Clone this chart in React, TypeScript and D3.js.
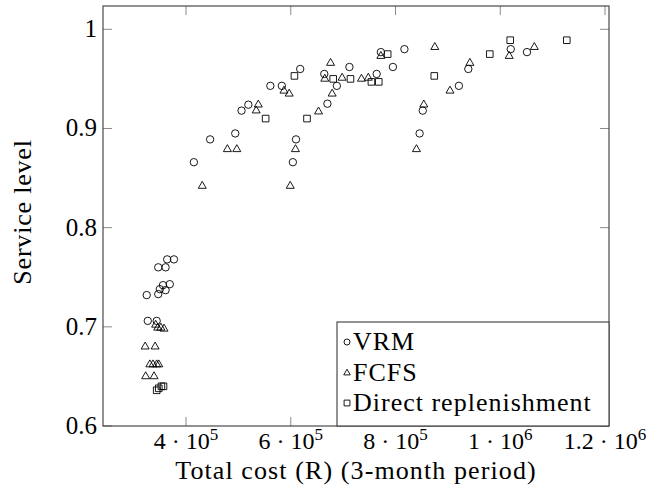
import React from 'react';
import * as d3 from 'd3';

const vrmCost = [364000, 377000, 347000, 361000, 325000, 347000, 350000, 356000, 361000, 369000, 327000, 344000,
  415000, 446000, 494000, 506000, 519000, 561000, 583000, 618000, 610000, 604000, 664000, 670000, 688000, 712000,
  764000, 772000, 795000, 817000, 846000, 852000, 921000, 939000, 1020000, 1051000];
const vrmLevel = [0.768, 0.768, 0.760, 0.760, 0.732, 0.733, 0.738, 0.742, 0.737, 0.743, 0.706, 0.706,
  0.866, 0.889, 0.895, 0.918, 0.924, 0.943, 0.943, 0.960, 0.889, 0.866, 0.955, 0.925, 0.943, 0.962,
  0.955, 0.977, 0.962, 0.980, 0.895, 0.918, 0.943, 0.960, 0.980, 0.977];

const fcfsCost = [342000, 346000, 352000, 358000, 322000, 341000, 331000, 337000, 344000, 348000, 323000, 339000,
  431000, 479000, 497000, 538000, 534000, 587000, 597000, 599000, 609000, 653000, 676000, 665000, 679000, 698000,
  735000, 748000, 772000, 840000, 854000, 875000, 904000, 942000, 1017000, 1065000];
const fcfsLevel = [0.702, 0.699, 0.699, 0.698, 0.680, 0.680, 0.662, 0.662, 0.662, 0.662, 0.650, 0.650,
  0.842, 0.879, 0.879, 0.924, 0.918, 0.938, 0.935, 0.842, 0.879, 0.917, 0.966, 0.950, 0.935, 0.951,
  0.950, 0.951, 0.973, 0.879, 0.924, 0.982, 0.938, 0.966, 0.973, 0.982];

const drCost = [344000, 348000, 353000, 357000, 552000, 607000, 631000, 681000, 714000, 754000, 768000, 785000,
  874000, 980000, 1019000, 1127000];
const drLevel = [0.636, 0.638, 0.640, 0.640, 0.910, 0.953, 0.910, 0.950, 0.950, 0.947, 0.947, 0.975,
  0.953, 0.975, 0.989, 0.989];

const xTickValues = [400000, 600000, 800000, 1000000, 1200000];
const xTickMantissas = ['4', '6', '8', '1', '1.2'];
const xTickExponents = ['5', '5', '5', '6', '6'];
const yTickValues = [0.6, 0.7, 0.8, 0.9, 1];
const yTickLabels = ['0.6', '0.7', '0.8', '0.9', '1'];
const seriesNames = ['VRM', 'FCFS', 'Direct replenishment'];
const xTitle = 'Total cost (R) (3-month period)';
const yTitle = 'Service level';

const FONT = "'Liberation Serif', 'DejaVu Serif', serif";

export default function App() {
  const W = 650, H = 500;
  const left = 103, right = 609, top = 6, bottom = 426;
  const x = d3.scaleLinear().domain([241500, 1207600]).range([left, right]);
  const y = d3.scaleLinear().domain([0.6, 1.0235]).range([bottom, top]);

  const circle = d3.symbol().type(d3.symbolCircle).size(Math.PI * 3.7 * 3.7)() as string;
  const tri = d3.symbol().type(d3.symbolTriangle).size((Math.sqrt(3) / 4) * 8 * 8)() as string;
  const sq = d3.symbol().type(d3.symbolSquare).size(6.6 * 6.6)() as string;
  const circleS = d3.symbol().type(d3.symbolCircle).size(Math.PI * 3 * 3)() as string;
  const triS = d3.symbol().type(d3.symbolTriangle).size((Math.sqrt(3) / 4) * 6.5 * 6.5)() as string;
  const sqS = d3.symbol().type(d3.symbolSquare).size(5.8 * 5.8)() as string;

  const series = [
    { cost: vrmCost, level: vrmLevel, path: circle, small: circleS },
    { cost: fcfsCost, level: fcfsLevel, path: tri, small: triS },
    { cost: drCost, level: drLevel, path: sq, small: sqS },
  ];

  const tickLen = 9;
  const legX0 = 337, legY0 = 322;
  const legRows = [342, 373, 403];
  const ts = { fontFamily: FONT };

  return (
    <svg width={W} height={H} style={{ position: 'absolute', left: 0, top: 0, background: '#fff' }}>
      <rect x={0} y={0} width={W} height={H} fill="#fff" />
      {xTickValues.map((v, i) => (
        <g key={'xt' + i} stroke="#8a8a8a" strokeWidth={1}>
          <line x1={x(v)} x2={x(v)} y1={bottom} y2={bottom - tickLen} />
          <line x1={x(v)} x2={x(v)} y1={top} y2={top + tickLen} />
        </g>
      ))}
      {yTickValues.map((v, i) => (
        <g key={'yt' + i} stroke="#8a8a8a" strokeWidth={1}>
          <line x1={left} x2={left + tickLen} y1={y(v)} y2={y(v)} />
          <line x1={right} x2={right - tickLen} y1={y(v)} y2={y(v)} />
        </g>
      ))}
      {series.map((s, si) => (
        <g key={'s' + si} fill="none" stroke="#000" strokeWidth={0.9}>
          {s.cost.map((c, i) => (
            <path key={i} d={s.path} transform={`translate(${x(c)},${y(s.level[i])})`} />
          ))}
        </g>
      ))}
      <rect x={left} y={top} width={right - left} height={bottom - top} fill="none" stroke="#3a3a3a" strokeWidth={1.1} />
      <rect x={legX0} y={legY0} width={right - legX0} height={bottom - legY0} fill="#fff" stroke="#3a3a3a" strokeWidth={1.1} />
      {seriesNames.map((n, i) => (
        <g key={'l' + i}>
          <path d={series[i].small} transform={`translate(${legX0 + 10},${legRows[i]})`} fill="none" stroke="#000" strokeWidth={0.9} />
          <text x={legX0 + 16} y={legRows[i] + 8} fontSize={26} letterSpacing={1.0} fill="#000" style={ts}>{n}</text>
        </g>
      ))}
      {xTickValues.map((v, i) => (
        <text key={'xl' + i} x={x(v)} y={449} fontSize={24} textAnchor="middle" fill="#000" style={ts}>
          {xTickMantissas[i] + ' \u00B7 10'}
          <tspan fontSize={17} dy={-9}>{xTickExponents[i]}</tspan>
        </text>
      ))}
      {yTickValues.map((v, i) => (
        <text key={'yl' + i} x={97} y={y(v) + 8} fontSize={25} textAnchor="end" fill="#000" style={ts}>{yTickLabels[i]}</text>
      ))}
      <text x={(left + right) / 2} y={479} fontSize={26} textAnchor="middle" letterSpacing={1.1} fill="#000" style={ts}>{xTitle}</text>
      <text transform={`translate(31,212) rotate(-90)`} fontSize={26} textAnchor="middle" letterSpacing={0.8} fill="#000" style={ts}>{yTitle}</text>
    </svg>
  );
}
